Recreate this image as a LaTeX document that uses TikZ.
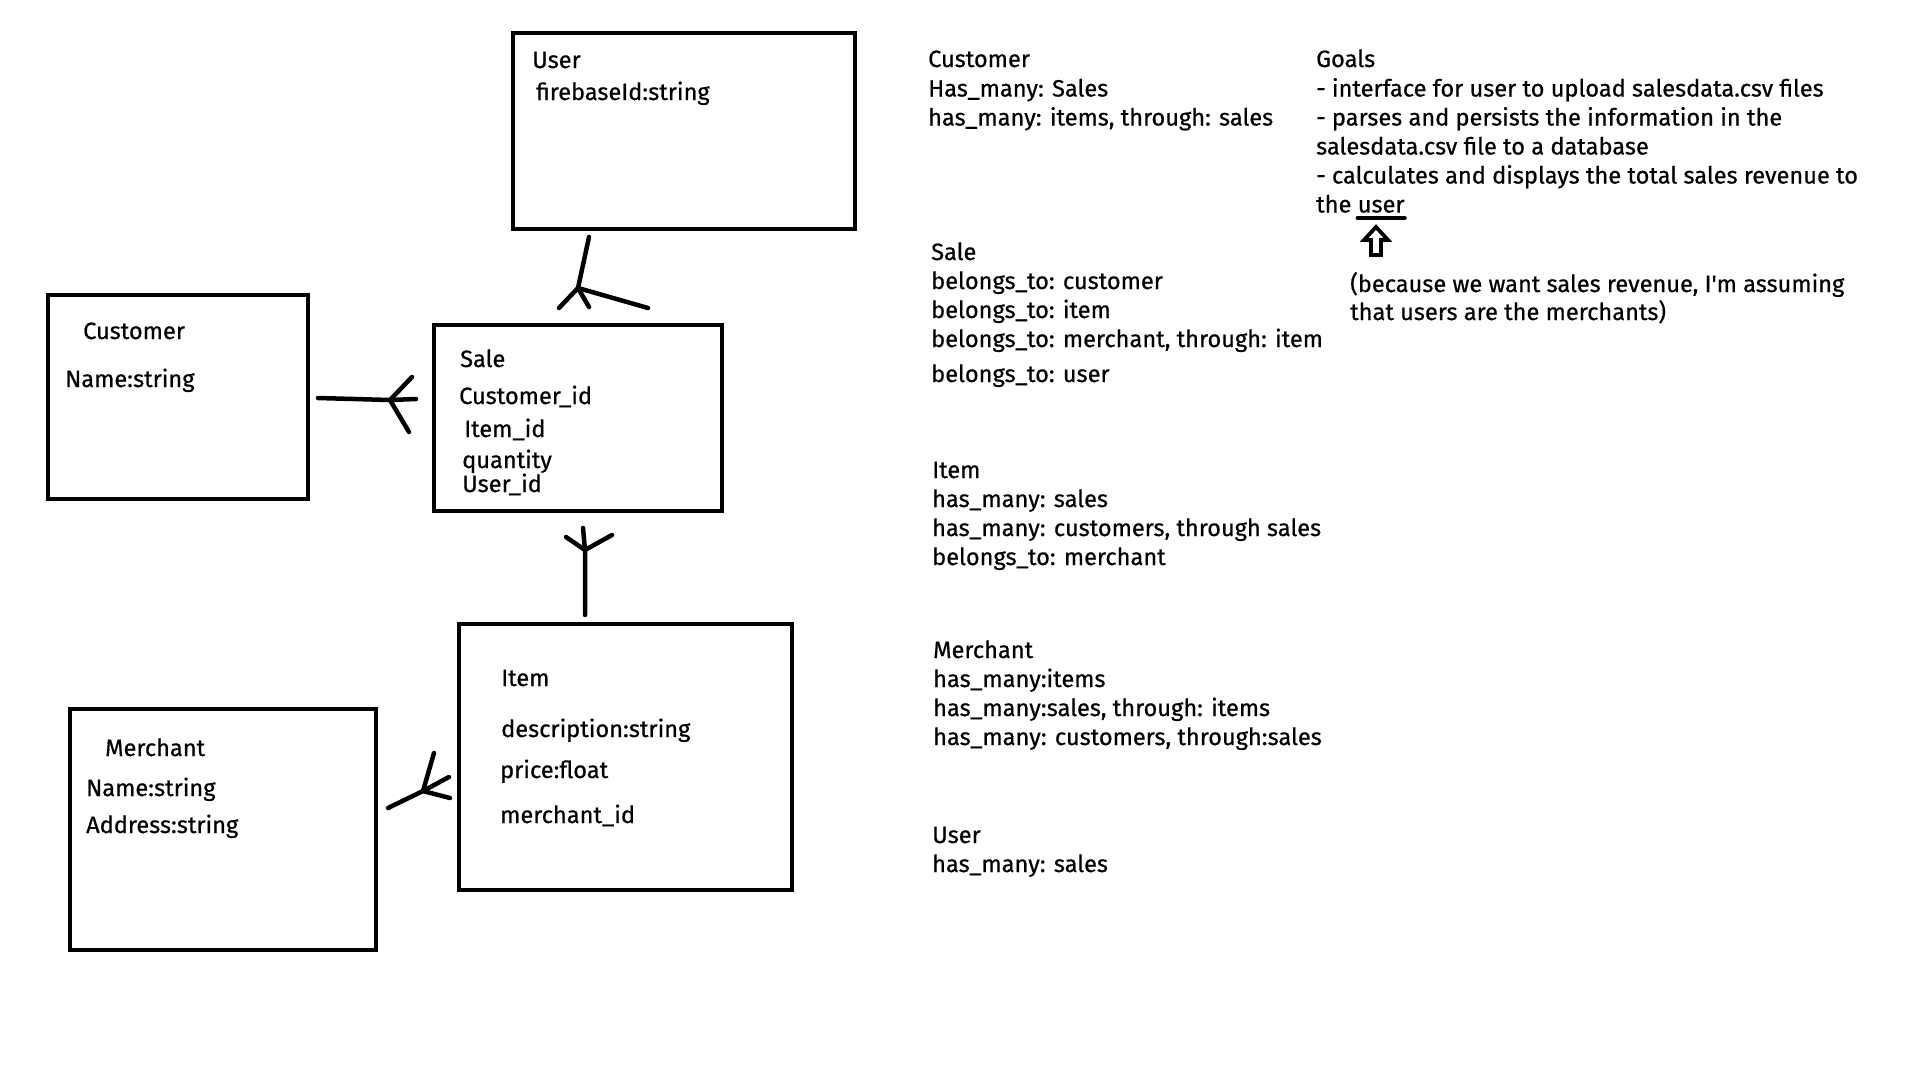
\documentclass[tikz,border=0pt]{standalone}
\usepackage{fontspec}
\setmainfont{Fira Sans}[FakeBold=0.6]

\tikzset{
  entity/.style={draw, line width=4pt, rectangle, inner sep=0pt},
  txt/.style={anchor=base west, inner sep=0pt, font=\fontsize{23.6}{29}\selectfont},
  foot/.style={line width=4.5pt, line cap=round, line join=round},
  uline/.style={line width=4pt, line cap=round},
  hollowarrow/.style={line width=3.8pt, line join=miter, fill=white},
}

\begin{document}
\begin{tikzpicture}[x=1pt,y=-1pt]
\useasboundingbox (0,0) rectangle (1920,1080);

% entity boxes
\draw (684,131) node(USER)[entity, minimum width=342pt, minimum height=196pt]{};
\draw (178,397) node(CUST)[entity, minimum width=260pt, minimum height=204pt]{};
\draw (578,418) node(SALE)[entity, minimum width=288pt, minimum height=186pt]{};
\draw (625.5,757) node(ITEM)[entity, minimum width=333pt, minimum height=266pt]{};
\draw (223,829.5) node(MERCH)[entity, minimum width=306pt, minimum height=241pt]{};

% box fields
\draw (532,68) node(USERT)[txt]{User};
\draw (536,100) node(USERF)[txt]{firebaseId:string};

\draw (83,339) node(CUSTT)[txt]{Customer};
\draw (65,387) node(CUSTF)[txt]{Name:string};

\draw (460,367) node(SALET)[txt]{Sale};
\draw (459,404) node(SALEA)[txt]{Customer\_id};
\draw (464,437) node(SALEB)[txt]{Item\_id};
\draw (462,468) node(SALEC)[txt]{quantity};
\draw (462,492) node(SALED)[txt]{User\_id};

\draw (501,686) node(ITEMT)[txt]{Item};
\draw (501,737) node(ITEMA)[txt]{description:string};
\draw (500,778) node(ITEMB)[txt]{price:float};
\draw (500,823) node(ITEMC)[txt]{merchant\_id};

\draw (105,756) node(MERCHT)[txt]{Merchant};
\draw (86,796) node(MERCHA)[txt]{Name:string};
\draw (86,833) node(MERCHB)[txt]{Address:string};

% crow's feet
\coordinate (US1) at (589,237);
\coordinate (US2) at (578,288);
\coordinate (US3) at (559,308);
\coordinate (US4) at (589,307);
\coordinate (US5) at (648,308);
\draw[foot] (US1) -- (US2) -- (US3);
\draw[foot] (US2) -- (US4);
\draw[foot] (US2) -- (US5);

\coordinate (CS1) at (318,398);
\coordinate (CS2) at (390,400);
\coordinate (CS3) at (416,399);
\coordinate (CS4) at (412,377);
\coordinate (CS5) at (409,432);
\draw[foot] (CS1) -- (CS2) -- (CS3);
\draw[foot] (CS4) -- (CS2) -- (CS5);

\coordinate (SI1) at (585,615);
\coordinate (SI2) at (585,550);
\coordinate (SI3) at (583,528);
\coordinate (SI4) at (566,537);
\coordinate (SI5) at (612,535);
\draw[foot] (SI1) -- (SI2) -- (SI3);
\draw[foot] (SI4) -- (SI2) -- (SI5);

\coordinate (MI1) at (388,808);
\coordinate (MI2) at (423,791);
\coordinate (MI3) at (434,753);
\coordinate (MI4) at (449,777);
\coordinate (MI5) at (450,798);
\draw[foot] (MI1) -- (MI2) -- (MI3);
\draw[foot] (MI2) -- (MI4);
\draw[foot] (MI2) -- (MI5);

% relations
\draw (928,67) node(RCUST)[txt]{Customer};
\draw (928,96.5) node(RCUSTA)[txt]{Has\_many: Sales};
\draw (928,125.5) node(RCUSTB)[txt]{has\_many: items, through: sales};

\draw (931,260) node(RSALE)[txt]{Sale};
\draw (931,289) node(RSALEA)[txt]{belongs\_to: customer};
\draw (931,318) node(RSALEB)[txt]{belongs\_to: item};
\draw (931,347) node(RSALEC)[txt]{belongs\_to: merchant, through: item};
\draw (931,382) node(RSALED)[txt]{belongs\_to: user};

\draw (932,478) node(RITEM)[txt]{Item};
\draw (932,507) node(RITEMA)[txt]{has\_many: sales};
\draw (932,536) node(RITEMB)[txt]{has\_many: customers, through sales};
\draw (932,565) node(RITEMC)[txt]{belongs\_to: merchant};

\draw (933,658) node(RMERCH)[txt]{Merchant};
\draw (933,687) node(RMERCHA)[txt]{has\_many:items};
\draw (933,716) node(RMERCHB)[txt]{has\_many:sales, through: items};
\draw (933,745) node(RMERCHC)[txt]{has\_many: customers, through:sales};

\draw (932,843) node(RUSER)[txt]{User};
\draw (932,872) node(RUSERA)[txt]{has\_many: sales};

% goals
\draw (1316,67) node(GOALS)[txt]{Goals};
\draw (1316,96.5) node(GOALA)[txt]{- interface for user to upload salesdata.csv files};
\draw (1316,125.5) node(GOALB)[txt]{- parses and persists the information in the};
\draw (1316,154.5) node(GOALC)[txt]{salesdata.csv file to a database};
\draw (1316,183.5) node(GOALD)[txt]{- calculates and displays the total sales revenue to};
\draw (1316,212.5) node(GOALE)[txt]{the};
\draw (GOALE.base east) node(GOALUSER)[txt, xshift=6pt]{user};
\draw[uline] ([yshift=-5.5pt]GOALUSER.base west) -- ([yshift=-5.5pt]GOALUSER.base east);

\coordinate (ARROWTIP) at (1376,227);
\draw[hollowarrow] (ARROWTIP) -- ++(12,13) -- ++(-7,0) -- ++(0,15) -- ++(-10,0) -- ++(0,-15) -- ++(-7,0) -- cycle;

\draw (1350,292) node(NOTEA)[txt]{(because we want sales revenue, I\textquotesingle m assuming};
\draw (1350,320) node(NOTEB)[txt]{that users are the merchants)};

\end{tikzpicture}
\end{document}
